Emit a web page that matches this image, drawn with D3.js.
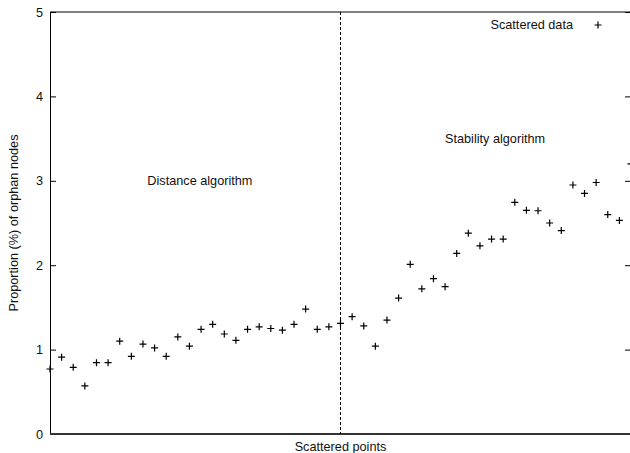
<!DOCTYPE html>
<html>
<head>
<meta charset="utf-8">
<script src="https://cdn.jsdelivr.net/npm/d3@7"></script>
<style>
  body { margin: 0; background: #fff; }
  text { font-family: "Liberation Sans", Arial, sans-serif; font-size: 12.7px; fill: #111; }
  .axis path, .axis line { stroke: #000; }
</style>
</head>
<body>
<script>
// proportion (%) of orphan nodes, one value per scattered point
var values = [0.77, 0.91, 0.79, 0.57, 0.845, 0.845, 1.10, 0.92, 1.066, 1.02,
              0.92, 1.15, 1.04, 1.24, 1.30, 1.185, 1.11, 1.24, 1.27, 1.25,
              1.23, 1.30, 1.48, 1.24, 1.27, 1.31, 1.39, 1.28, 1.04, 1.35,
              1.61, 2.01, 1.72, 1.84, 1.745, 2.14, 2.38, 2.23, 2.31, 2.31,
              2.745, 2.65, 2.645, 2.50, 2.41, 2.95, 2.85, 2.98, 2.60, 2.53, 3.2];
var yTicks = [0, 1, 2, 3, 4, 5];
var splitIndex = 25;
var labels = ["Distance algorithm", "Stability algorithm"];

var margin = {top: 12, bottom: 19, left: 50, right: -1};
var W = 630, H = 453;
var width = W - margin.left - margin.right;
var height = H - margin.top - margin.bottom;

var svg = d3.select("body")
            .append("svg")
            .attr("width", W)
            .attr("height", H);

var g = svg.append("g")
           .attr("transform", "translate(" + margin.left + "," + margin.top + ")");

var xScale = d3.scaleLinear()
               .domain([0, values.length - 1])
               .range([0, width]);

var yScale = d3.scaleLinear()
               .domain([0, 5])
               .range([height, 0]);

//Y axis, ticks point inward
var yAxis = d3.axisLeft(yScale)
              .tickValues(yTicks)
              .tickFormat(d3.format("d"))
              .tickSize(-6)
              .tickSizeOuter(0)
              .tickPadding(7);

g.append("g")
  .attr("class", "axis")
  .call(yAxis)
  .call(function(s) { s.selectAll("text").style("font-size", "12.7px"); });

//mirror ticks on the right
var yAxisR = d3.axisRight(yScale)
               .tickValues(yTicks)
               .tickFormat("")
               .tickSize(-6)
               .tickSizeOuter(0);

g.append("g")
  .attr("class", "axis")
  .attr("transform", "translate(" + width + ",0)")
  .call(yAxisR);

//top border
g.append("line")
  .attr("x1", 0).attr("x2", width)
  .attr("y1", 0).attr("y2", 0)
  .attr("stroke", "#000");

//bottom axis line
g.append("line")
  .attr("x1", 0).attr("x2", width)
  .attr("y1", height).attr("y2", height)
  .attr("stroke", "#333")
  .attr("stroke-width", 2);

//split line
g.append("line")
  .attr("x1", xScale(splitIndex)).attr("x2", xScale(splitIndex))
  .attr("y1", 0).attr("y2", height)
  .attr("stroke", "#000")
  .attr("stroke-dasharray", "3,2");

//points
var plus = "M-3.5,0H3.5M0,-3.5V3.5";
g.selectAll(".pt")
  .data(values)
  .enter()
  .append("path")
  .attr("class", "pt")
  .attr("d", plus)
  .attr("transform", function(d, i) {
      return "translate(" + xScale(i) + "," + yScale(d) + ")";
  })
  .attr("stroke", "#000")
  .attr("stroke-width", 1.2)
  .attr("fill", "none");

//annotations
g.append("text")
  .attr("x", xScale(splitIndex / 2 + 0.4))
  .attr("y", yScale(3) + 4.5)
  .attr("text-anchor", "middle")
  .text(labels[0]);

g.append("text")
  .attr("x", xScale(splitIndex + 13.3))
  .attr("y", yScale(3.5) + 4.5)
  .attr("text-anchor", "middle")
  .text(labels[1]);

//legend
g.append("text")
  .attr("x", 523)
  .attr("y", 17)
  .attr("text-anchor", "end")
  .text("Scattered data");

g.append("path")
  .attr("d", plus)
  .attr("transform", "translate(548,13)")
  .attr("stroke", "#000")
  .attr("stroke-width", 1.2)
  .attr("fill", "none");

//axis titles
svg.append("text")
  .attr("x", margin.left + xScale(splitIndex))
  .attr("y", 451)
  .attr("text-anchor", "middle")
  .text("Scattered points");

svg.append("text")
  .attr("transform", "translate(18," + (margin.top + height / 2) + ") rotate(-90)")
  .attr("text-anchor", "middle")
  .text("Proportion (%) of orphan nodes");
</script>
</body>
</html>
